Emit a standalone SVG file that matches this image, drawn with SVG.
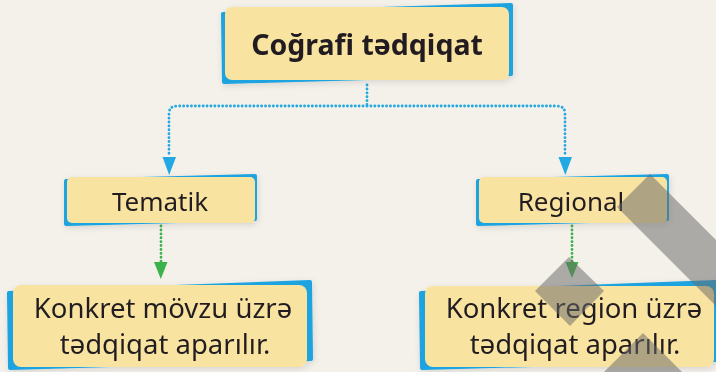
<svg xmlns="http://www.w3.org/2000/svg" width="716" height="372" viewBox="0 0 716 372">
<defs>
<style>
.blue{fill:#1ba3e0;stroke:#1ba3e0;stroke-width:4;stroke-linejoin:round}
.box{fill:#f8e4a0}
.t{font-family:"Noto Sans","Open Sans","DejaVu Sans",sans-serif;fill:#231f20;text-anchor:middle}
.dotb{fill:none;stroke:#22a8e2;stroke-width:2.8;stroke-linecap:round;stroke-dasharray:0.1 3.8}
.dotg{fill:none;stroke:#3bb34a;stroke-width:2.8;stroke-linecap:round;stroke-dasharray:0.1 3.8}
.ab{fill:#22a8e2}
.ag{fill:#3bb34a}
.wm{fill:#6a6a6a;opacity:0.52}
</style>
<filter id="sh" x="-10%" y="-20%" width="120%" height="150%">
<feDropShadow dx="1" dy="2" stdDeviation="3" flood-color="#000" flood-opacity="0.12"/>
</filter>
</defs>
<rect width="716" height="372" fill="#f4f1eb"/>

<g id="connectors">
<path class="dotb" d="M367,85 V106 M367,106 H177 Q169,106 169,114 V157 M367,106 H557 Q565,106 565,114 V157"/>
<polygon class="ab" points="162.5,157 176,157 169.2,175"/>
<polygon class="ab" points="558.5,157 572,157 565.3,175"/>
<path class="dotg" d="M161,226 V262"/>
<polygon class="ag" points="154,262 167.5,262 160.8,279"/>
<path class="dotg" d="M572,226 V262"/>
<polygon class="ag" points="565.5,262 578.5,262 572,278"/>
</g>

<g id="node-root" filter="url(#sh)">
<polygon class="blue" points="223,14 511,5 511,74 224,82"/>
<rect class="box" x="225" y="7" width="284" height="73" rx="7"/>
<text class="t" x="367" y="55" font-size="28.5" font-weight="bold">Coğrafi tədqiqat</text>
</g>

<g id="node-tematik" filter="url(#sh)">
<polygon class="blue" points="66,181 255,176 255,219 66,224"/>
<rect class="box" x="67" y="177" width="188" height="46" rx="5"/>
<text class="t" x="160" y="211" font-size="26">Tematik</text>
</g>

<g id="node-regional" filter="url(#sh)">
<polygon class="blue" points="478,181 667,176 667,219 478,224"/>
<rect class="box" x="479" y="177" width="188" height="46" rx="5"/>
<text class="t" x="571" y="211" font-size="26">Regional</text>
</g>

<g id="node-movzu" filter="url(#sh)">
<polygon class="blue" points="9,293 310,282 311,359 10,368"/>
<rect class="box" x="13" y="285" width="294" height="82" rx="8"/>
<text class="t" x="163" y="318" font-size="27.5">Konkret mövzu üzrə</text>
<text class="t" x="165" y="354" font-size="27.5">tədqiqat aparılır.</text>
</g>

<g id="node-region" filter="url(#sh)">
<polygon class="blue" points="421,293 716,282 716,360 422,368"/>
<rect class="box" x="425" y="286" width="289" height="81" rx="8"/>
<text class="t" x="574" y="318" font-size="27.5">Konkret region üzrə</text>
<text class="t" x="575" y="354" font-size="27.5">tədqiqat aparılır.</text>
</g>

<g id="watermark">
<polygon class="wm" points="650,174 716,240 716,306 617,207"/>
<polygon class="wm" points="569,257 604,291 570,326 535,291"/>
<polygon class="wm" points="643,333 682,372 604,372"/>
</g>
</svg>
